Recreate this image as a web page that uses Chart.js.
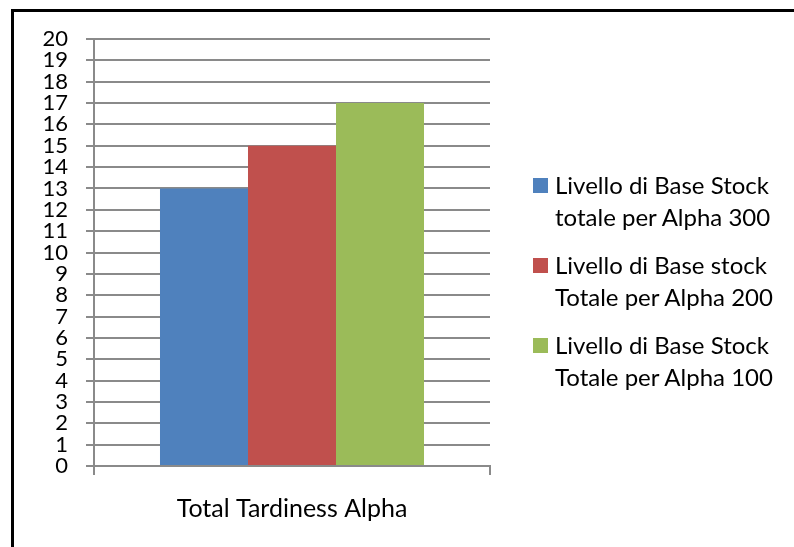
<!DOCTYPE html>
<html>
<head>
<meta charset="utf-8">
<script src="https://cdn.jsdelivr.net/npm/chart.js@4/dist/chart.umd.min.js"></script>
<style>
  html, body { margin: 0; padding: 0; background: #fff; }
  #wrap { position: relative; width: 794px; height: 547px; overflow: hidden; background: #fff; }
  #frame { position: absolute; left: 11px; top: 9px; width: 900px; height: 700px;
           border-top: 3px solid #000; border-left: 3px solid #000; pointer-events: none; box-sizing: border-box; }
  #legend { position: absolute; left: 533px; top: 169px; font-family: Lato, sans-serif; font-size: 24px; color: #000; }
  .item { display: flex; align-items: flex-start; margin-bottom: 16px; }
  .box { width: 15px; height: 15px; margin-top: 9px; margin-right: 7px; flex: none; }
  .txt { line-height: 32px; white-space: nowrap; }
</style>
</head>
<body>
<div id="wrap">
  <canvas id="c"></canvas>
  <div id="legend"></div>
  <div id="frame"></div>
</div>
<script>
// Category and series data
const categories = ['Total Tardiness Alpha'];
const seriesNames = [
  ['Livello di Base Stock', 'totale per Alpha 300'],
  ['Livello di Base stock', 'Totale per Alpha 200'],
  ['Livello di Base Stock', 'Totale per Alpha 100']
];
const alpha300 = [13];
const alpha200 = [15];
const alpha100 = [17];
const seriesColors = ['#4F81BD', '#C0504D', '#9BBB59'];
const yMin = 0, yMax = 20, yStep = 1;

const FONT = 'Lato, sans-serif';
const GRID = '#8a8a8a';

const seriesValues = [alpha300, alpha200, alpha100];

const chart = new Chart(document.getElementById('c'), {
  type: 'bar',
  data: {
    labels: categories,
    datasets: seriesValues.map((vals, i) => ({
      label: seriesNames[i].join(' '),
      data: vals,
      backgroundColor: seriesColors[i],
      borderWidth: 0,
      categoryPercentage: 0.6667,
      barPercentage: 1
    }))
  },
  options: {
    responsive: true,
    maintainAspectRatio: false,
    animation: false,
    layout: { padding: { left: 0, right: 304, top: 39, bottom: 0 } },
    plugins: {
      legend: { display: false },
      tooltip: { enabled: false }
    },
    scales: {
      x: {
        grid: { drawOnChartArea: false, drawTicks: true, tickLength: 9, color: GRID, lineWidth: 2 },
        border: { display: true, color: GRID, width: 2 },
        ticks: { color: '#000', font: { family: FONT, size: 25 }, padding: 19 },
        afterFit: s => { s.height = 81; }
      },
      y: {
        min: yMin, max: yMax,
        grid: { color: GRID, lineWidth: 2, tickLength: 8 },
        border: { display: true, color: GRID, width: 2 },
        ticks: { stepSize: yStep, autoSkip: false, color: '#000', font: { family: FONT, size: 22 }, padding: 18 },
        afterFit: s => { s.width = 94; }
      }
    }
  }
});

// Legend built from the chart's datasets, each name on two lines
const legendEl = document.getElementById('legend');
chart.data.datasets.forEach((ds, i) => {
  const item = document.createElement('div');
  item.className = 'item';
  const box = document.createElement('div');
  box.className = 'box';
  box.style.background = ds.backgroundColor;
  const txt = document.createElement('div');
  txt.className = 'txt';
  txt.innerHTML = seriesNames[i].join('<br>');
  item.appendChild(box);
  item.appendChild(txt);
  legendEl.appendChild(item);
});
</script>
</body>
</html>
